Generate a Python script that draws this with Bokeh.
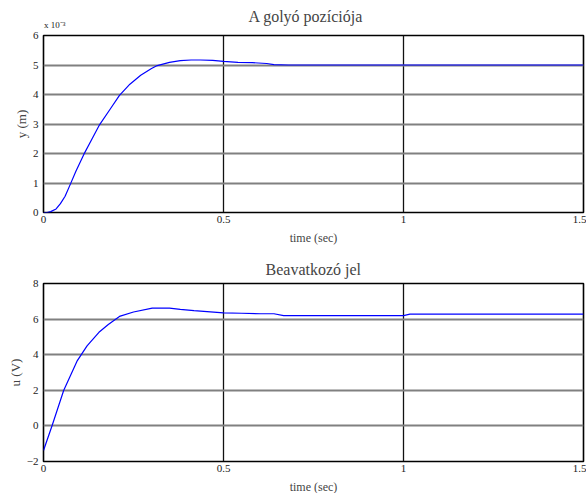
from bokeh.plotting import figure
from bokeh.layouts import column
from bokeh.models import Range1d, FixedTicker, LinearAxis
from bokeh.embed import file_html
from bokeh.resources import INLINE

# Ball position (scaled by 1e-3 m)
t_pos = [0.0, 0.01, 0.02, 0.035, 0.047, 0.06, 0.075, 0.09, 0.112, 0.135, 0.156, 0.185, 0.211,
         0.24, 0.27, 0.3, 0.316, 0.35, 0.38, 0.41, 0.436, 0.47, 0.5, 0.54, 0.58, 0.62, 0.64,
         0.68, 0.75, 0.9, 1.0, 1.2, 1.5]
y_pos = [0.0, 0.0, 0.03, 0.12, 0.3, 0.55, 0.97, 1.4, 1.97, 2.5, 2.98, 3.5, 3.97,
         4.35, 4.65, 4.88, 4.98, 5.09, 5.15, 5.17, 5.17, 5.16, 5.12, 5.09, 5.08, 5.05, 5.01,
         5.0, 5.0, 5.0, 5.0, 5.0, 5.0]

# Control signal (V)
t_ctl = [0.0, 0.024, 0.056, 0.094, 0.121, 0.154, 0.18, 0.211, 0.25, 0.302, 0.35, 0.38,
         0.418, 0.5, 0.55, 0.603, 0.64, 0.667, 0.8, 1.0, 1.018, 1.2, 1.5]
u_ctl = [-1.38, 0.02, 1.99, 3.67, 4.5, 5.26, 5.7, 6.15, 6.4, 6.62, 6.62, 6.55,
         6.48, 6.35, 6.33, 6.3, 6.3, 6.2, 6.2, 6.2, 6.28, 6.28, 6.28]

x_ticks = [0, 0.5, 1, 1.5]
x_tick_labels = {0: "0", 0.5: "0.5", 1: "1", 1.5: "1.5"}
y_ticks_top = [0, 1, 2, 3, 4, 5, 6]
y_ticks_bot = [-2, 0, 2, 4, 6, 8]
scale_note = "x 10⁻³"

SERIF = "Liberation Serif"


def make_panel(title, ylabel, x, y, yr, yticks, frame_h, top, bottom):
    p = figure(width=586, height=top + frame_h + bottom, frame_width=540, frame_height=frame_h,
               min_border_left=43, min_border_right=3, min_border_top=top,
               min_border_bottom=bottom, output_backend="svg", toolbar_location=None,
               x_range=Range1d(0, 1.5), y_range=Range1d(*yr))
    p.title.text = title
    p.title.align = "left"
    p.title.text_font = SERIF
    p.title.text_font_size = "16px"
    p.title.text_font_style = "normal"
    p.background_fill_color = "white"
    p.border_fill_color = "white"
    p.outline_line_color = "black"
    p.outline_line_width = 1.6

    p.xaxis.ticker = FixedTicker(ticks=x_ticks)
    p.xaxis.major_label_overrides = x_tick_labels
    p.yaxis.ticker = FixedTicker(ticks=yticks)
    for ax in (p.xaxis[0], p.yaxis[0]):
        ax.axis_line_color = None
        ax.major_tick_in = 0
        ax.major_tick_out = 0
        ax.minor_tick_line_color = None
        ax.major_label_text_font = SERIF
        ax.major_label_text_font_size = "11px"
        ax.major_label_text_color = "#222222"
        ax.axis_label_text_font = SERIF
        ax.axis_label_text_font_size = "12px"
        ax.axis_label_text_font_style = "normal"
    p.xaxis.major_label_standoff = 3
    p.yaxis.major_label_standoff = 5
    p.xaxis.axis_label = "time (sec)"
    p.xaxis.axis_label_standoff = 5
    p.yaxis.axis_label = ylabel
    p.yaxis.axis_label_text_font_size = "13px"
    p.yaxis.axis_label_standoff = 1

    p.xgrid.ticker = FixedTicker(ticks=x_ticks)
    p.ygrid.ticker = FixedTicker(ticks=yticks)
    p.xgrid.grid_line_color = "#111111"
    p.xgrid.grid_line_width = 1.3
    p.ygrid.grid_line_color = "#808080"
    p.ygrid.grid_line_width = 1.8

    p.line(x, y, line_color="#0000ff", line_width=1.2)
    return p


p1 = make_panel("A golyó pozíciója", "y (m)", t_pos, y_pos, (0, 6), y_ticks_top, 177, 35, 38)
# y-axis scale note, shown as a lone tick label above the frame's top-left corner
note_axis = LinearAxis(ticker=FixedTicker(ticks=[0.031]),
                       major_label_overrides={0.031: scale_note},
                       axis_line_color=None, major_tick_line_color=None,
                       minor_tick_line_color=None, major_tick_in=0, major_tick_out=0,
                       major_label_standoff=6,
                       major_label_text_font=SERIF, major_label_text_font_size="9px",
                       major_label_text_color="#222222")
p1.add_layout(note_axis, "above")
p1.title.standoff = -16
p1.title.offset = 205

p2 = make_panel("Beavatkozó jel", "u (V)", t_ctl, u_ctl, (-2, 8), y_ticks_bot, 178, 33, 32)
p2.title.standoff = 11
p2.title.offset = 222

layout = column(p1, p2, spacing=0)
open("out.html", "w").write(file_html(layout, INLINE))
